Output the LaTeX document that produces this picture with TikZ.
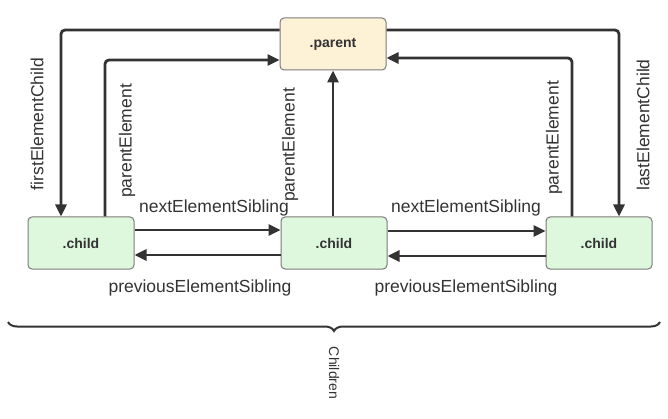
\documentclass[tikz,border=0pt]{standalone}
\usepackage{fontspec}
\setmainfont{Liberation Sans}
\usetikzlibrary{arrows.meta,decorations.pathreplacing}
\definecolor{inkline}{HTML}{333333}
\definecolor{boxedge}{HTML}{7A7A7A}
\definecolor{parentfill}{HTML}{FDF1D6}
\definecolor{childfill}{HTML}{DDF8DD}
\tikzset{
  elem/.style={draw=boxedge, line width=1pt, rounded corners=4pt,
    minimum width=106pt, minimum height=52pt, inner sep=0pt,
    font=\fontsize{14}{16}\selectfont\bfseries, text=inkline},
  parentbox/.style={elem, fill=parentfill},
  childbox/.style={elem, fill=childfill},
  link/.style={draw=inkline, line width=2.8pt, rounded corners=4pt,
    -{Triangle[length=12pt,width=11pt]}},
  lbl/.style={font=\fontsize{17.5}{20}\selectfont, text=inkline, inner sep=1pt},
  vlbl/.style={lbl, rotate=90},
}
\begin{document}
\begin{tikzpicture}[x=1pt,y=-1pt]
  \useasboundingbox (0,0) rectangle (668,419);

  % element boxes
  \node[parentbox] (parent) at (333,44) {.parent};
  \node[childbox]  (c1) at (81,243)  {.child};
  \node[childbox]  (c2) at (334,243) {.child};
  \node[childbox]  (c3) at (599,243) {.child};

  % parent -> first / last child
  \draw[link] ([yshift=14pt]parent.west) -| ([xshift=-20pt]c1.north);
  \draw[link] ([yshift=14pt]parent.east) -| ([xshift=20pt]c3.north);

  % children -> parent
  \draw[link] ([xshift=24pt]c1.north) |- ([yshift=-16pt]parent.west);
  \draw[link] ([xshift=-1pt]c2.north) -- ([xshift=0pt]parent.south);
  \draw[link] ([xshift=-27pt]c3.north) |- ([yshift=-14pt]parent.east);

  % sibling links
  \draw[link] ([yshift=13pt]c1.east) -- ([yshift=13pt]c2.west);
  \draw[link] ([yshift=-12pt]c2.west) -- ([yshift=-12pt]c1.east);
  \draw[link] ([yshift=12pt]c2.east) -- ([yshift=12pt]c3.west);
  \draw[link] ([yshift=-13pt]c3.west) -- ([yshift=-13pt]c2.east);

  % link labels
  \node[vlbl] (lfirst) at (37,124) {firstElementChild};
  \node[vlbl] (lpar1) at (127,141) {parentElement};
  \node[vlbl] (lpar2) at (290,145) {parentElement};
  \node[vlbl] (lpar3) at (554,138) {parentElement};
  \node[vlbl] (llast) at (643,125) {lastElementChild};
  \node[lbl] (lnext1) at (214,208) {nextElementSibling};
  \node[lbl] (lprev1) at (200,288) {previousElementSibling};
  \node[lbl] (lnext2) at (466,208) {nextElementSibling};
  \node[lbl] (lprev2) at (466,288) {previousElementSibling};

  % brace grouping the children
  \draw[draw=inkline, line width=2pt,
        decorate, decoration={brace, amplitude=9pt}]
    (660,322) -- (8,322);
  \node[font=\fontsize{14}{16}\selectfont, text=inkline, rotate=-90]
    (lchildren) at (334,373) {Children};
\end{tikzpicture}
\end{document}
